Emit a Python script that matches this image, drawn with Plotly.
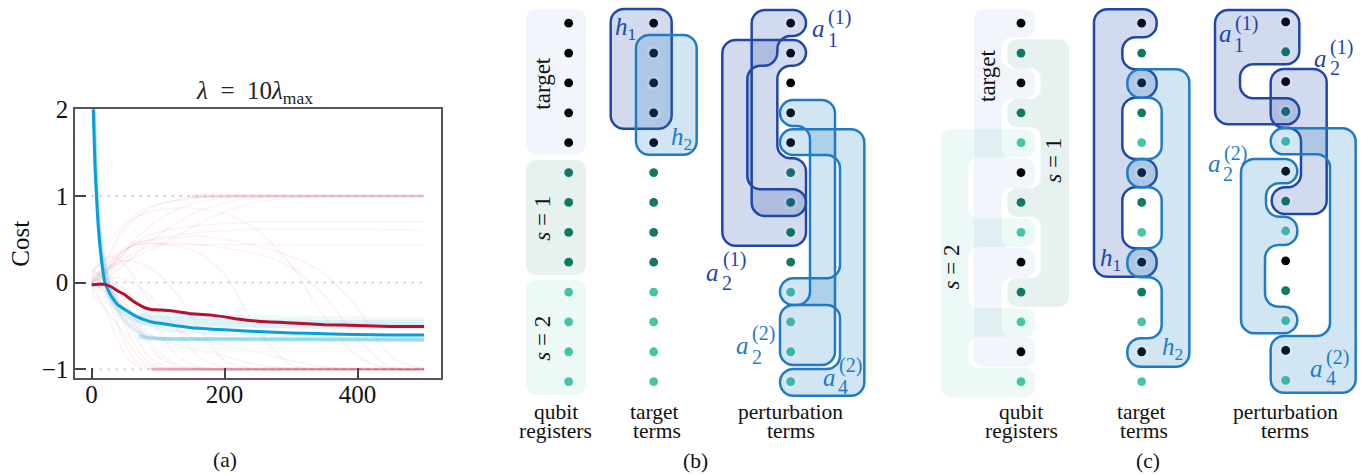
import plotly.graph_objects as go

# ---------- panel (a) data ----------
mean_blue_x = [2,5,8,10,15,20,25,30,40,50,60,70,80,90,100,120,150,200,250,300,350,400,450,500]
mean_blue_y = [2.1,1.35,0.9,0.65,0.25,0.0,-0.09,-0.16,-0.26,-0.31,-0.36,-0.40,-0.43,-0.455,-0.465,-0.49,-0.52,-0.545,-0.565,-0.58,-0.59,-0.60,-0.605,-0.605]
mean_red_x = [0,10,20,30,40,50,60,70,80,90,100,120,150,180,200,220,250,300,350,400,450,500]
mean_red_y = [-0.025,-0.02,-0.02,-0.05,-0.10,-0.14,-0.20,-0.25,-0.29,-0.31,-0.315,-0.325,-0.36,-0.375,-0.395,-0.42,-0.445,-0.465,-0.485,-0.495,-0.505,-0.505]
faint_x = [0,10,20,30,45,60,80,100,130,160,200,250,300,350,400,450,500]
faint_red = [
 [0.05,0.0,-0.1,-0.3,-0.6,-0.85,-0.97,-1,-1,-1,-1,-1,-1,-1,-1,-1,-1],
 [-0.1,-0.15,-0.3,-0.5,-0.75,-0.92,-0.99,-1,-1,-1,-1,-1,-1,-1,-1,-1,-1],
 [0.1,0.1,0.0,-0.15,-0.4,-0.65,-0.88,-0.97,-1,-1,-1,-1,-1,-1,-1,-1,-1],
 [-0.05,-0.1,-0.12,-0.2,-0.35,-0.55,-0.8,-0.93,-0.99,-1,-1,-1,-1,-1,-1,-1,-1],
 [0.0,-0.05,-0.05,-0.1,-0.2,-0.35,-0.6,-0.8,-0.95,-0.99,-1,-1,-1,-1,-1,-1,-1],
 [0.15,0.1,0.05,0.0,-0.05,-0.15,-0.3,-0.55,-0.85,-0.97,-1,-1,-1,-1,-1,-1,-1],
 [-0.1,-0.05,0.02,0.05,0.05,0.0,-0.1,-0.25,-0.55,-0.85,-0.98,-1,-1,-1,-1,-1,-1],
 [0.05,0.1,0.15,0.2,0.25,0.25,0.2,0.1,-0.15,-0.5,-0.9,-1,-1,-1,-1,-1,-1],
 [-0.05,0.0,0.1,0.2,0.35,0.42,0.45,0.45,0.42,0.35,0.1,-0.55,-0.95,-1,-1,-1,-1],
 [0.0,0.05,0.12,0.22,0.35,0.42,0.45,0.45,0.46,0.44,0.4,0.33,0.18,-0.15,-0.65,-0.98,-1],
 [0.02,0.08,0.18,0.28,0.38,0.45,0.48,0.5,0.52,0.54,0.5,0.42,0.3,0.1,-0.3,-0.85,-1],
 [0.1,0.2,0.35,0.5,0.65,0.75,0.85,0.9,0.95,0.98,1,1,1,1,1,1,1],
 [-0.05,0.05,0.2,0.35,0.55,0.7,0.82,0.9,0.96,0.99,1,1,1,1,1,1,1],
 [0.0,0.05,0.1,0.2,0.3,0.45,0.6,0.72,0.85,0.93,0.98,1,1,1,1,1,1],
 [-0.08,-0.02,0.03,0.1,0.18,0.28,0.42,0.55,0.7,0.82,0.92,0.98,1,1,1,1,1],
 [0.08,0.12,0.15,0.18,0.22,0.28,0.35,0.42,0.55,0.68,0.82,0.93,0.98,1,1,1,1],
 [0.02,0.05,0.1,0.18,0.3,0.42,0.52,0.58,0.63,0.66,0.68,0.7,0.7,0.7,0.7,0.7,0.7],
 [0.05,0.08,0.15,0.25,0.35,0.42,0.48,0.52,0.55,0.58,0.6,0.62,0.62,0.62,0.62,0.61,0.6],
 [0.03,0.03,0.08,0.15,0.25,0.33,0.4,0.43,0.44,0.44,0.44,0.44,0.44,0.44,0.44,0.44,0.44],
 [-0.02,-0.05,-0.1,-0.15,-0.25,-0.4,-0.65,-0.85,-0.97,-1,-1,-1,-1,-1,-1,-1,-1],
 [-0.15,-0.2,-0.3,-0.4,-0.55,-0.75,-0.93,-0.99,-1,-1,-1,-1,-1,-1,-1,-1,-1],
 [0.12,0.2,0.28,0.3,0.25,0.1,-0.15,-0.35,-0.55,-0.65,-0.72,-0.8,-0.9,-0.97,-1,-1,-1],
 [0.18,0.2,0.15,0.05,-0.15,-0.35,-0.55,-0.65,-0.72,-0.78,-0.85,-0.95,-0.99,-1,-1,-1,-1],
 [0.0,0.1,0.25,0.4,0.6,0.72,0.8,0.84,0.86,0.85,0.8,0.6,0.2,-0.4,-0.85,-1,-1],
]
faint_blue = [
 [3.2,0.75,0.1,-0.15,-0.38,-0.5,-0.63,-0.645,-0.65,-0.65,-0.65,-0.655,-0.655,-0.655,-0.66,-0.66,-0.66],
 [3.0,0.7,0.05,-0.2,-0.42,-0.52,-0.62,-0.64,-0.645,-0.65,-0.65,-0.65,-0.655,-0.655,-0.655,-0.66,-0.66],
 [3.4,0.8,0.15,-0.1,-0.28,-0.36,-0.42,-0.44,-0.45,-0.46,-0.47,-0.47,-0.48,-0.48,-0.48,-0.48,-0.48],
 [3.1,0.6,0.0,-0.2,-0.3,-0.35,-0.38,-0.4,-0.41,-0.42,-0.43,-0.44,-0.44,-0.45,-0.45,-0.45,-0.45],
 [3.3,0.85,0.2,-0.1,-0.3,-0.4,-0.47,-0.49,-0.5,-0.5,-0.51,-0.51,-0.51,-0.52,-0.52,-0.52,-0.52],
 [3.0,0.65,0.05,-0.25,-0.35,-0.42,-0.48,-0.52,-0.56,-0.58,-0.6,-0.61,-0.62,-0.62,-0.62,-0.62,-0.62],
 [3.5,0.9,0.25,-0.05,-0.3,-0.45,-0.6,-0.64,-0.65,-0.65,-0.65,-0.65,-0.65,-0.65,-0.65,-0.65,-0.65],
]
plateau_x = [70,90,120,200,300,400,500]
plateau_low = [-0.62,-0.645,-0.65,-0.65,-0.655,-0.655,-0.66]
plateau_high = [-0.40,-0.41,-0.42,-0.44,-0.455,-0.46,-0.47]
band_x_low = [90,500]
band_x_high = [150,500]
level_x = [0,500]
levels = [1,0,-1]
x_ticks = [0,200,400]
y_ticks = [-1,0,1,2]

# ---------- panels (b), (c) data ----------
rows = list(range(13))
kinds_b = ["t"]*5 + ["s1"]*4 + ["s2"]*4
kinds_c = ["t","s1","t","s1","s2","t","s1","s2","t","s1","s2","t","s2"]
DOT = {"t":"#000000","s1":"#0f7a63","s2":"#44c4a8"}

# outlines: (panel, vertices) traced on the reference, 3x zoom coordinates
bg_b = {
 "target":[(48,28),(228,28),(228,464),(48,464)],
 "s1":[(48,480),(228,480),(228,825),(48,825)],
 "s2":[(48,840),(228,840),(228,1185),(48,1185)],
}
bg_c = {
 "s1":[(232,118),(417,118),(417,920),(232,920),(232,835),(332,835),(332,650),(232,650),(232,565),(332,565),(332,382),(232,382),(232,297),(332,297),(332,205),(232,205)],
 "target":[(132,28),(315,28),(315,112),(215,112),(215,205),(315,205),(315,297),(215,297),(215,475),(315,475),(315,565),(215,565),(215,745),(315,745),(315,833),(215,833),(215,1012),(315,1012),(315,1100),(132,1100)],
 "s2":[(32,388),(315,388),(315,472),(115,472),(115,655),(315,655),(315,741),(115,741),(115,925),(315,925),(315,1010),(115,1010),(115,1103),(315,1103),(315,1190),(32,1190)],
}
dark_b = [
 [(302,27),(485,27),(485,386),(302,386)],
 [(725,30),(888,30),(888,108),(802,108),(802,197),(712,197),(712,568),(888,568),(888,648),(725,648)],
 [(637,120),(888,120),(888,197),(802,197),(802,475),(888,475),(888,737),(637,737)],
]
light_b = [
 [(378,105),(560,105),(560,464),(378,464)],
 [(810,300),(975,300),(975,1095),(810,1095),(810,915),(900,915),(900,378),(810,378)],
 [(810,388),(1063,388),(1063,1187),(810,1187),(810,1107),(990,1107),(990,915),(810,915),(810,835),(990,835),(990,465),(810,465)],
]
dark_c = [
 [(492,28),(680,28),(680,112),(577,112),(577,208),(680,208),(680,293),(577,293),(577,477),(680,477),(680,562),(577,562),(577,745),(680,745),(680,830),(492,830)],
 [(855,30),(1108,30),(1108,193),(930,193),(930,295),(1108,295),(1108,373),(855,373)],
 [(1022,207),(1190,207),(1190,642),(1025,642),(1025,562),(1113,562),(1113,383),(1022,383)],
]
light_c = [
 [(592,208),(778,208),(778,1100),(592,1100),(592,1015),(695,1015),(695,832),(592,832),(592,745),(695,745),(695,562),(592,562),(592,477),(695,477),(695,293),(592,293)],
 [(933,477),(1102,477),(1102,550),(1008,550),(1008,650),(1102,650),(1102,735),(1005,735),(1005,920),(1102,920),(1102,1000),(933,1000)],
 [(1022,385),(1277,385),(1277,1178),(1022,1178),(1022,1008),(1200,1008),(1200,463),(1022,463)],
]

W, H = 1365, 476
OB, OC = 510, 930
FONT = "Liberation Serif"
DARK = "#2047a8"
LIGHT = "#1f7cc4"
RED = "#b5112e"
BLUE = "#05a0dc"

def rounded(poly, ox, R=40):
    n = len(poly)
    P = [(ox + x/3, y/3) for x, y in poly]
    parts = []
    k = 0.5523
    for i in range(n):
        p0, p1, p2 = P[i-1], P[i], P[(i+1) % n]
        l1 = abs(p1[0]-p0[0]) + abs(p1[1]-p0[1])
        l2 = abs(p2[0]-p1[0]) + abs(p2[1]-p1[1])
        r = min(R/3, l1/2, l2/2)
        u1 = ((p1[0]-p0[0])/l1, (p1[1]-p0[1])/l1)
        u2 = ((p2[0]-p1[0])/l2, (p2[1]-p1[1])/l2)
        a = (p1[0]-u1[0]*r, p1[1]-u1[1]*r)
        b = (p1[0]+u2[0]*r, p1[1]+u2[1]*r)
        c1 = (a[0]+u1[0]*r*k, a[1]+u1[1]*r*k)
        c2 = (b[0]-u2[0]*r*k, b[1]-u2[1]*r*k)
        parts.append(("M" if i == 0 else "L") + f"{a[0]:.2f},{a[1]:.2f}")
        parts.append(f"C{c1[0]:.2f},{c1[1]:.2f} {c2[0]:.2f},{c2[1]:.2f} {b[0]:.2f},{b[1]:.2f}")
    return " ".join(parts) + " Z"

fig = go.Figure()

# panel (a)
for ys in faint_red:
    fig.add_trace(go.Scatter(x=faint_x, y=ys, mode="lines", hoverinfo="skip", opacity=0.06,
                             line=dict(color="#d22a4a", width=1.6, shape="spline", smoothing=0.8)))
for ys in faint_blue:
    fig.add_trace(go.Scatter(x=faint_x, y=ys, mode="lines", hoverinfo="skip", opacity=0.08,
                             line=dict(color=BLUE, width=3, shape="spline", smoothing=0.8)))
fig.add_trace(go.Scatter(x=plateau_x, y=plateau_high, mode="lines", hoverinfo="skip", opacity=0.06,
                         line=dict(color=BLUE, width=12)))
fig.add_trace(go.Scatter(x=plateau_x, y=plateau_low, mode="lines", hoverinfo="skip", opacity=0.22,
                         line=dict(color=BLUE, width=4)))
fig.add_trace(go.Scatter(x=band_x_low, y=[-1, -1], mode="lines", hoverinfo="skip", opacity=0.3,
                         line=dict(color="#d22a4a", width=3)))
fig.add_trace(go.Scatter(x=band_x_high, y=[1, 1], mode="lines", hoverinfo="skip", opacity=0.12,
                         line=dict(color="#d22a4a", width=3.5)))
for lv in levels:
    fig.add_trace(go.Scatter(x=level_x, y=[lv, lv], mode="lines", hoverinfo="skip",
                             line=dict(color="rgba(185,185,185,0.75)", width=2, dash="2px,6px")))
fig.add_trace(go.Scatter(x=mean_blue_x, y=mean_blue_y, mode="lines", hoverinfo="skip",
                         line=dict(color=BLUE, width=3, shape="spline", smoothing=0.5)))
fig.add_trace(go.Scatter(x=mean_red_x, y=mean_red_y, mode="lines", hoverinfo="skip",
                         line=dict(color=RED, width=3, shape="spline", smoothing=0.5)))

# dots of (b), (c)
row_y = lambda r: 23.2 + 29.87*r
columns = [
 (OB + 176/3, kinds_b, 0, False), (OB + 431/3, kinds_b, 0, True), (OB + 842/3, kinds_b, 0, True),
 (OC + 273/3, kinds_c, 0, False), (OC + 635/3, kinds_c, 0, True), (OC + 1067/3, kinds_c, -1.3, True),
]
for cx, kinds, dy, _ in columns:
    fig.add_trace(go.Scatter(x=[cx]*13, y=[row_y(r)+dy for r in rows], mode="markers",
                             xaxis="x2", yaxis="y2", hoverinfo="skip",
                             marker=dict(size=8.8, color=[DOT[k] for k in kinds], line=dict(width=0))))

shapes = []
def bg(poly, ox, fill):
    shapes.append(dict(type="path", xref="x2", yref="y2", path=rounded(poly, ox, 30), layer="below",
                       fillcolor=fill, line=dict(width=0)))
BGF = {"target":"rgba(30,80,180,0.06)", "s1":"rgba(15,120,100,0.10)", "s2":"rgba(66,196,170,0.10)"}
for name, poly in bg_b.items():
    bg(poly, OB, BGF[name])
for name, poly in bg_c.items():
    bg(poly, OC, BGF[name])

def blob(poly, ox, stroke, fill):
    shapes.append(dict(type="path", xref="x2", yref="y2", path=rounded(poly, ox, 40), layer="above",
                       fillcolor=fill, fillrule="evenodd", line=dict(color=stroke, width=2.5)))
FD, FL = "rgba(32,71,168,0.2)", "rgba(31,124,196,0.2)"
for p in dark_b: blob(p, OB, DARK, FD)
for p in light_b: blob(p, OB, LIGHT, FL)
for p in dark_c: blob(p, OC, DARK, FD)
for p in light_c: blob(p, OC, LIGHT, FL)

# pale ring round each dot where a term blob tints it
for cx, kinds, dy, ring in columns:
    if ring:
        for r in rows:
            cy = row_y(r) + dy
            shapes.append(dict(type="circle", xref="x2", yref="y2", layer="above",
                               x0=cx-6, x1=cx+6, y0=cy-6, y1=cy+6,
                               line=dict(color="rgba(255,255,255,0.14)", width=2)))

def txt(x, y, s, size=21, color="#111111", angle=0):
    return dict(x=x, y=y, xref="x2", yref="y2", text=s, showarrow=False, textangle=angle,
                xanchor="center", yanchor="middle", font=dict(family=FONT, size=size, color=color))

ann = []
for lab, x, y in [("qubit",555.7,412),("registers",555.7,431),("target",654,412),("terms",656.7,431),
                  ("perturbation",790.7,412),("terms",790.7,431),
                  ("qubit",1020.7,412),("registers",1021,431),("target",1141.7,412),("terms",1144.3,431),
                  ("perturbation",1285.3,412),("terms",1285.3,431),
                  ("(a)",225,460),("(b)",695.7,460.5),("(c)",1148,460.5)]:
    ann.append(txt(x, y, lab, 21.5))
for lab, x, y in [("target",541.7,83),("<i>s</i> = 1",541.7,218),("<i>s</i> = 2",541.7,338),
                  ("target",987,76),("<i>s</i> = 1",1052.7,160),("<i>s</i> = 2",951.7,266.7)]:
    ann.append(txt(x, y, lab, 23, angle=-90))
for lab, x, y, c in [("<i>h</i><sub>1</sub>",625.7,28,DARK),("<i>h</i><sub>2</sub>",681.7,138,LIGHT),
                     ("<i>h</i><sub>1</sub>",1110,259,DARK),("<i>h</i><sub>2</sub>",1172,348,LIGHT)]:
    ann.append(txt(x, y, lab, 25, c))
for (ax, ay, sx, sy, bx, by, sup, sub, c) in [
    (818,28,839,17,833,40,"(1)","1",DARK),
    (712.7,272,734,259,726.7,283,"(1)","2",DARK),
    (742,345,763,333,756.7,357,"(2)","2",LIGHT),
    (829,377,850.7,365,843,387,"(2)","4",LIGHT),
    (1225,33,1246,23,1239,45,"(1)","1",DARK),
    (1320.7,58,1341.7,47,1335,68,"(1)","2",DARK),
    (1214,163,1235,153,1228,174,"(2)","2",LIGHT),
    (1316.7,368,1337.7,357,1331,378,"(2)","4",LIGHT)]:
    ann.append(txt(ax, ay, "<i>a</i>", 25, c))
    ann.append(txt(sx, sy, sup, 20, c))
    ann.append(txt(bx, by, sub, 20, c))

fig.update_layout(
    template="none",
    width=W, height=H, margin=dict(l=0, r=0, t=0, b=0, pad=0, autoexpand=False), autosize=False,
    paper_bgcolor="white", plot_bgcolor="rgba(0,0,0,0)", showlegend=False,
    font=dict(family=FONT, size=25, color="#111111"),
    title=dict(text="<i>λ</i>  =  10<i>λ</i><sub>max</sub>", x=255/W, y=1-90/H, xanchor="center", yanchor="middle",
               xref="paper", yref="paper", automargin=False, font=dict(family=FONT, size=25, color="#222222")),
    xaxis=dict(domain=[75/W, 440.7/W], range=[-25, 525], tickvals=x_ticks, ticks="inside", ticklen=11, tickwidth=1.5,
               tickcolor="#444444", showgrid=False, zeroline=False, showline=True, mirror=True, automargin=False,
               ticklabelstandoff=-7,
               linecolor="#555555", linewidth=1.5, tickfont=dict(size=25, family=FONT, color="#111111")),
    yaxis=dict(domain=[1-378.3/H, 1-109.3/H], range=[-1.104, 2], tickvals=y_ticks, ticks="inside", ticklen=11, tickwidth=1.5,
               tickcolor="#444444", showgrid=False, zeroline=False, showline=True, mirror=True, automargin=False,
               linecolor="#555555", linewidth=1.5, tickfont=dict(size=25, family=FONT, color="#111111"),
               title=dict(text="Cost", standoff=5, font=dict(size=25, family=FONT, color="#111111"))),
    xaxis2=dict(domain=[0, 1], range=[0, W], visible=False, fixedrange=True, anchor="y2", automargin=False),
    yaxis2=dict(domain=[0, 1], range=[H, 0], visible=False, fixedrange=True, anchor="x2", automargin=False),
    shapes=shapes, annotations=ann,
)

fig.write_html("out.html", config={"displayModeBar": False},
               post_script="document.body.style.margin='0';document.documentElement.style.overflow='hidden';")
